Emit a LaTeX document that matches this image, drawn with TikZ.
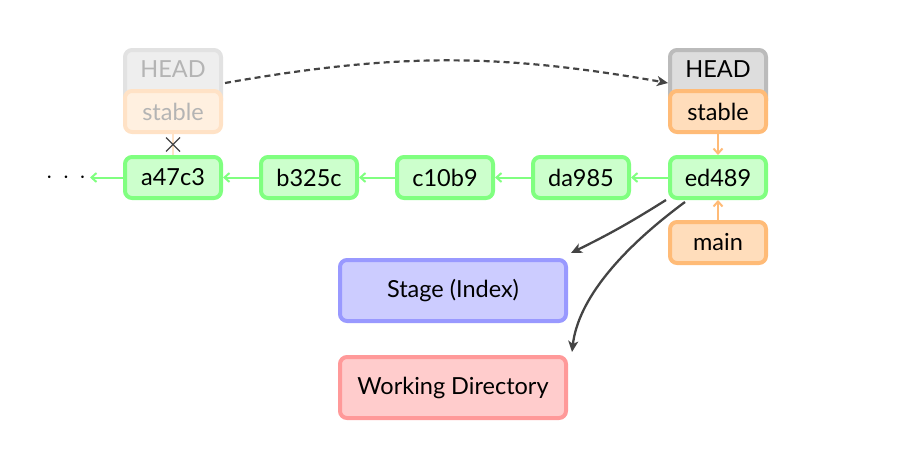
\documentclass[tikz,border=0pt]{standalone}
\usepackage{fontspec}
\setmainfont{Lato}
\usetikzlibrary{arrows.meta,calc}
\definecolor{cfill}{HTML}{CCFFCC}\definecolor{cdraw}{HTML}{80FF80}
\definecolor{ofill}{HTML}{FFDDBB}\definecolor{odraw}{HTML}{FFBB77}
\definecolor{hfill}{HTML}{DDDDDD}\definecolor{hdraw}{HTML}{BBBBBB}
\definecolor{ghfill}{HTML}{EEEEEE}\definecolor{ghdraw}{HTML}{E2E2E2}
\definecolor{gofill}{HTML}{FFF0E0}\definecolor{godraw}{HTML}{FFE2C6}
\definecolor{gtext}{HTML}{B4B4B4}
\definecolor{bfill}{HTML}{CCCCFF}\definecolor{bdraw}{HTML}{9999FF}
\definecolor{rfill}{HTML}{FFCCCC}\definecolor{rdraw}{HTML}{FF9999}
\definecolor{dark}{HTML}{444444}
\tikzset{
  x=1pt,y=-1pt,
  txt/.style={font=\fontsize{23.5}{28}\selectfont},
  box/.style={rectangle,rounded corners=7pt,line width=4pt,minimum width=96pt,minimum height=41pt,inner sep=0pt,txt},
  commit/.style={box,fill=cfill,draw=cdraw},
  branch/.style={box,fill=ofill,draw=odraw},
  headbox/.style={box,fill=hfill,draw=hdraw},
  ghead/.style={box,fill=ghfill,draw=ghdraw,text=gtext},
  gbranch/.style={box,fill=gofill,draw=godraw,text=gtext},
  area/.style={box,minimum width=226pt,minimum height=61pt},
  glink/.style={draw=cdraw,line width=2pt,-{Straight Barb[length=5pt,width=9pt]}},
  olink/.style={draw=odraw,line width=2pt,-{Straight Barb[length=5pt,width=9pt]}},
  dlink/.style={draw=dark,line width=2.3pt,-{Stealth[length=11pt,width=10pt,inset=3pt]}},
}
\begin{document}
\begin{tikzpicture}
\useasboundingbox (0,0) rectangle (908,463);
% ghost HEAD / stable
\node[ghead,minimum height=58pt,anchor=north] (gheadbox) at (173,48) {};
\node[txt,text=gtext] (gheadtxt) at (173,69) {HEAD};
\node[gbranch] (gstable) at (173,111.5) {stable};
% current HEAD / stable
\node[headbox,minimum height=58pt,anchor=north] (headbox) at (718,48) {};
\node[txt] (headtxt) at (718,69) {HEAD};
\node[branch] (stable) at (718,111.5) {stable};
% commits
\node[commit] (a) at (173,177.5) {a47c3};
\node[commit] (b) at (309,177.5) {b325c};
\node[commit] (c) at (445,177.5) {c10b9};
\node[commit] (d) at (581,177.5) {da985};
\node[commit] (e) at (718,177.5) {ed489};
\node[branch] (main) at (718,242.5) {main};
\node[inner sep=0pt,font=\fontsize{28}{32}\selectfont] (dots) at (66,177.5) {$\cdot\,\cdot\,\cdot$};
% areas
\node[area,fill=bfill,draw=bdraw] (stage) at (453,290.5) {Stage (Index)};
\node[area,fill=rfill,draw=rdraw] (wd) at (453,387.5) {Working Directory};
% commit links
\draw[glink] (b.west) -- (a.east);
\draw[glink] (c.west) -- (b.east);
\draw[glink] (d.west) -- (c.east);
\draw[glink] (e.west) -- (d.east);
\draw[glink] (a.west) -- (90,177.5);
% branch links
\draw[olink] (stable.south) -- (e.north);
\draw[olink] (main.north) -- (e.south);
\draw[draw=godraw,line width=2pt] (gstable.south) -- (a.north);
\coordinate (x) at ($(gstable.south)!0.5!(a.north)$);
\draw[dark,line width=1.4pt] ($(x)+(-7,-7)$) -- ($(x)+(7,7)$) ($(x)+(-7,7)$) -- ($(x)+(7,-7)$);
% HEAD move
\draw[dlink,dash pattern=on 6pt off 4pt,line width=2.2pt] ($(gheadbox.east)+(2,4)$) to[bend left=10] ($(headbox.west)+(0,4)$);
% checkout arrows
\draw[dlink] ($(e.south west)+(-2,0)$) to[bend left=3] ($(stage.north east)+(3,-5)$);
\draw[dlink] ($(e.south)+(-33,2)$) .. controls (620,250) and (578,300) .. ($(wd.north east)+(4,-3)$);
\end{tikzpicture}
\end{document}
